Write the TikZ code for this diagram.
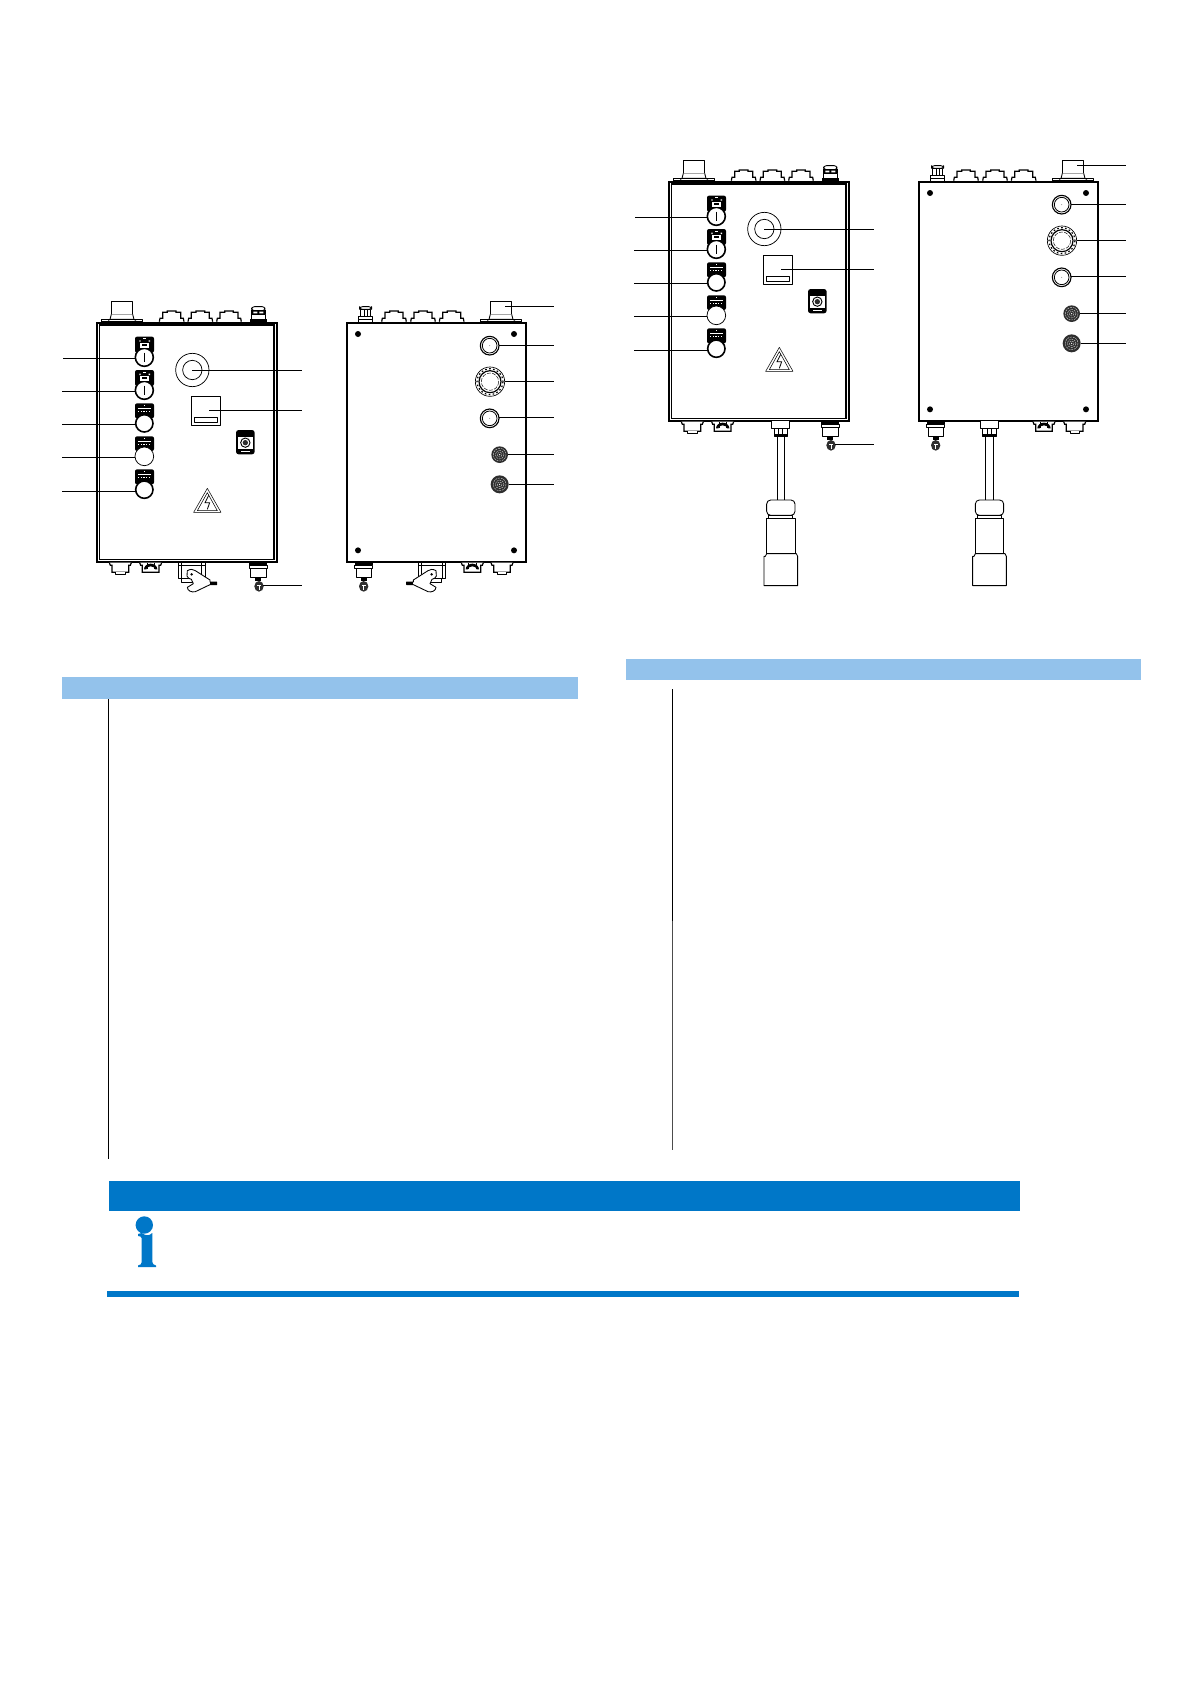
\documentclass[tikz,border=0pt]{standalone}
\definecolor{barlight}{HTML}{93C2EB}
\definecolor{bardark}{HTML}{0077C8}
\definecolor{speaker}{HTML}{2E2E2E}
\tikzset{
  zoomat/.style 2 args={shift={(#1,#2)},x=.25pt,y=-.25pt},
  leader/.style={draw=black,line width=.75pt},
  part/.style={draw=black,line width=.65pt,fill=white,line join=round},
  conn/.style={draw=black,line width=.9pt,fill=white,line join=miter},
  fine/.style={draw=black,line width=.4pt,fill=white,line join=round},
  boxfront/.style={draw=black,line width=1.4pt,fill=white},
  boxinner/.style={draw=black,line width=.8pt},
  boxback/.style={draw=black,line width=1.7pt,fill=white},
  ringthick/.style={draw=black,line width=1.2pt,fill=white},
  ringthin/.style={draw=black,line width=.55pt,fill=white},
}
\newcommand\lead[4]{\coordinate (la) at (#1,#2);\coordinate (lb) at (#3,#4);\draw[leader] (la) -- (lb);}
% connector on top of the box
\newcommand\topconn[1]{\begin{scope}[shift={(#1,0)}]
  \draw[conn] (-37,125)--(-35,115)--(-27,115)--(-27,97)--(-13,97)--(-13,93)--(13,93)--(13,97)--(27,97)--(27,115)--(35,115)--(37,125);
\end{scope}}
% large gland on top
\newcommand\biggland[1]{\begin{scope}[shift={(#1,0)}]
  \draw[part] (-32,64) rectangle (32,103);
  \draw[part] (-32,103)--(-36,118)--(36,118)--(32,103);
  \draw[part] (-62,118) rectangle (62,126);
  \fill[black] (-62,122) rectangle (62,126);
  \fill[black] (-42,118) rectangle (-38,122) (38,118) rectangle (42,122);
\end{scope}}
% small gland on top
\newcommand\glanddark[1]{\begin{scope}[shift={(#1,0)}]
  \draw[part,rounded corners=2pt] (-20,80) rectangle (20,92);
  \fill[black] (-22,91) rectangle (22,103);
  \fill[white] (-15,95) rectangle (-3,100) (3,95) rectangle (15,100);
  \draw[part] (-20,103) rectangle (20,118);
  \fill[black] (-25,116) rectangle (25,126);
\end{scope}}
\newcommand\glandlight[1]{\begin{scope}[shift={(#1,0)}]
  \draw[part,rounded corners=2pt] (-18,80) rectangle (18,88);
  \draw[part] (-15,88) rectangle (15,110);
  \draw[fine] (-5,88)--(-5,110) (5,88)--(5,110);
  \draw[part] (-21,110) rectangle (21,126);
  \draw[fine] (-21,118)--(21,118);
\end{scope}}
% push button with label plate; #1 plate top, #2 plate bottom, #3 circle y, #4 radius, #5 style, #6 extras
\newcommand\btn[6]{
  \fill[black,rounded corners=1.5pt] (255,#1) rectangle (312,#2+10);
  \draw[#5] (283,#3) circle (#4);
  #6
}
\newcommand\platekey[1]{\fill[white] (270,#1+18) rectangle (298,#1+34);\fill[black] (276,#1+22) rectangle (292,#1+28);\fill[white] (280,#1+5) rectangle (288,#1+8);\fill[white] (268,#1+11) rectangle (272,#1+15) (296,#1+11) rectangle (300,#1+15);}
\newcommand\platerows[1]{\fill[white] (281,#1+4) rectangle (285,#1+7);\fill[white] (263,#1+14) rectangle (304,#1+16.5);\foreach \tx in {264,272,280,288,296}{\fill[white] (\tx,#1+24) rectangle (\tx+4,#1+26);}}
% bottom connectors
\newcommand\botconn[1]{\begin{scope}[shift={(#1,0)}]
  \draw[conn] (-33,848)--(-30,856)--(-25,856)--(-25,877)--(25,877)--(25,856)--(30,856)--(33,848);
  \draw[part] (-14,877)--(-14,882)--(14,882)--(14,877);
\end{scope}}
\newcommand\botconndark[1]{\begin{scope}[shift={(#1,0)}]
  \draw[conn] (-33,848)--(-30,856)--(-25,856)--(-25,877)--(25,877)--(25,856)--(30,856)--(33,848);
  \fill[black] (-20,868) arc[start angle=180,end angle=360,x radius=20,y radius=17] -- (13,868) arc[start angle=0,end angle=-180,x radius=13,y radius=9] -- cycle;
  \draw[fine] (-11,850)--(-11,868) (11,850)--(11,868);
\end{scope}}
% gland carrying the small ball
\newcommand\keygland[2]{\begin{scope}[shift={(#1,0)}]
  \fill[black] (-27,847) rectangle (27,855);
  \draw[part] (-27,855) rectangle (27,864);
  \draw[part] (-23,864) rectangle (23,891);
  \fill[black] (-9,890) rectangle (9,903);
  \fill[speaker] (#2,919) ellipse (14 and 16);
  \fill[white] (#2-6,914) rectangle (#2+6,918);
  \fill[white] (#2-1.5,914) rectangle (#2+1.5,931);
\end{scope}}
% hinged latch
\newcommand\latch{
  \draw[part] (385,848) rectangle (465,896);
  \draw[fine] (393,848)--(393,896) (455,848)--(455,896) (385,856)--(465,856);
  \draw[part] (395,896) rectangle (428,906);
  \draw[part] (412,872) .. controls (422,866) and (430,868) .. (436,872) -- (480,900) -- (480,906) -- (500,906) -- (500,914) -- (480,914) -- (436,935) .. controls (425,938) and (412,932) .. (412,922) -- (430,911) -- (424,898) .. controls (418,896) and (412,894) .. (411,888) -- cycle;
  \fill[black] (480,906) rectangle (500,914);
  \fill[black] (425,883) circle (4);
}
% cable with plug; #1 centre x
\newcommand\cableplug[1]{\begin{scope}[shift={(#1,0)}]
  \draw[part] (-27,847) -- (-27,868) -- (27,868) -- (27,847);
  \draw[part] (-20,868) rectangle (20,892);
  \draw[fine] (-6,868)--(-6,892) (6,868)--(6,892);
  \fill[black] (-20,886) rectangle (20,892);
  \draw[part] (-11,892) rectangle (11,1083);
  \draw[part,rounded corners=3pt] (-42,1083) rectangle (43,1129);
  \draw[part] (-36,1129) rectangle (36,1138);
  \draw[part] (-42,1138) rectangle (43,1245);
  \draw[part] (-46,1252) -- (-42,1244) -- (47,1244) -- (51,1252) -- (51,1340) -- (-50,1340) -- (-50,1252) -- cycle;
\end{scope}}
% front view of the box
\newcommand\frontview{
  \biggland{216}
  \topconn{365}\topconn{451}\topconn{537}
  \glanddark{625}
  \draw[boxfront] (140,128) rectangle (680,845);
  \draw[boxinner] (148,135) rectangle (672,838);
  \btn{170}{208}{232}{27}{ringthick}{\platekey{170}\draw[part,fill=none] (283,218)--(283,247);}
  \btn{270}{308}{331}{27}{ringthick}{\platekey{270}\draw[part,fill=none] (283,317)--(283,346);}
  \btn{370}{405}{430}{26}{ringthick}{\platerows{370}}
  \btn{469}{503}{529}{28}{ringthin}{\platerows{469}}
  \btn{568}{603}{629}{26}{ringthick}{\platerows{568}}
  \draw[ringthin] (427,270) circle (50);
  \draw[ringthin] (427,270) circle (29);
  \draw[part] (423,349) rectangle (511,437);
  \draw[black,line width=1.1pt] (423,349)--(511,349);
  \draw[fine] (432,411) rectangle (503,426);
  \fill[black,rounded corners=2pt] (558,450) rectangle (614,523);
  \fill[white] (564,470) rectangle (608,506);
  \draw[black,line width=.7pt,fill=white] (586,488) circle (14);
  \fill[speaker] (586,488) circle (8);
  \fill[white] (572,512) rectangle (600,515);
  \draw[fine,fill=none] (472,625)--(431,697)--(513,697)--cycle;
  \draw[fine,fill=none] (472,638)--(442,692)--(502,692)--cycle;
  \draw[black,line width=.6pt] (476,646)--(465,668)--(479,668)--(472,688);
  \botconn{211}\botconndark{302}
  \keygland{625}{2}
  \lead{40}{235}{255}{235}
  \lead{37}{334}{255}{334}
  \lead{37}{433}{257}{433}
  \lead{37}{532}{255}{532}
  \lead{37}{633}{257}{633}
  \lead{427}{270}{757}{270}
  \lead{477}{391}{757}{391}
  \lead{640}{917}{755}{917}
}
% rear view of the box
\newcommand\ringbtn[2]{
  \draw[draw=black,line width=.85pt,fill=white] (#1,#2) circle (28);
  \draw[draw=black,line width=.6pt,fill=white] (#1,#2) circle (22);
  \fill[gray] (#1,#2) circle (1.5);
}
\newcommand\speakerdisc[3]{
  \fill[speaker] (#1,#2) circle (#3);
  \foreach \rr in {7,13,19}{\draw[white!70!gray,line width=.3pt,dash pattern=on 1.4pt off .7pt] (#1,#2) circle (\rr);}
  \fill[white] (#1,#2) circle (2);
}
\newcommand\backview{
  \glandlight{137}
  \topconn{222}\topconn{309}\topconn{395}
  \biggland{543}
  \draw[boxback] (80,128) rectangle (618,845);
  \foreach \sx/\sy in {114/162,582/162,114/811,582/811}{\fill[black] (\sx,\sy) circle (9);}
  \ringbtn{509}{197}
  \draw[draw=black,line width=.5pt,fill=white] (510,305) circle (44);
  \draw[black,line width=.9pt,dash pattern=on 1.2pt off 1.8pt] (510,305) circle (39);
  \draw[draw=black,line width=.9pt,fill=white] (510,305) circle (33);
  \draw[black,line width=.35pt,dash pattern=on 3pt off 1pt,fill=white] (510,305) circle (26);
  \ringbtn{509}{415}
  \speakerdisc{539}{524}{25}
  \speakerdisc{539}{613}{27}
  \keygland{131}{0}
  \lead{555}{79}{703}{79}
  \lead{537}{197}{703}{197}
  \lead{555}{303}{703}{303}
  \lead{537}{411}{703}{411}
  \lead{564}{523}{703}{523}
  \lead{566}{613}{703}{613}
}
\begin{document}
\begin{tikzpicture}[x=.75pt,y=-.75pt]
\useasboundingbox (0,0) rectangle (1192,1685);
\fill[white] (0,0) rectangle (1192,1685);
% left pair
\begin{scope}[zoomat={50}{280}]
  \frontview
  \latch
\end{scope}
\begin{scope}[zoomat={320}{280}]
  \backview
  \begin{scope}[shift={(760,0)},xscale=-1]\latch\end{scope}
  \botconndark{457}\botconn{546}
\end{scope}
% right pair
\begin{scope}[zoomat={622}{139}]
  \frontview
  \cableplug{476}
\end{scope}
\begin{scope}[zoomat={892}{139}]
  \backview
  \cableplug{292}
  \botconndark{456}\botconn{548}
\end{scope}
% header bars
\node[fill=barlight,inner sep=0,minimum width=387pt,minimum height=16.5pt,anchor=north west] (barA) at (62,677) {};
\node[fill=barlight,inner sep=0,minimum width=386.5pt,minimum height=15.75pt,anchor=north west] (barB) at (625.3,659) {};
\coordinate (lineAa) at (108.7,699);
\coordinate (lineAb) at (108.7,1159);
\draw[black,line width=.6pt] (lineAa) -- (lineAb);
\coordinate (lineBa) at (672.3,689);
\coordinate (lineBb) at (672.3,921);
\coordinate (lineBc) at (672.3,1150);
\draw[black,line width=.6pt] (lineBa) -- (lineBb);
\draw[black!70,line width=.45pt] (lineBb) -- (lineBc);
% note box
\node[fill=bardark,inner sep=0,minimum width=683.25pt,minimum height=22.5pt,anchor=north west] (noteHead) at (109,1181) {};
\fill[bardark] (107.3,1291) rectangle (1019,1297);
\fill[bardark] (144.3,1225) circle (8.7);
\fill[bardark] (138,1234) -- (141.7,1233) .. controls (146,1236) and (149,1236) .. (152.3,1233) -- (152.3,1262) .. controls (152.3,1264) and (154,1265) .. (156,1265.5) -- (156,1267) -- (138,1267) -- (138,1265.5) .. controls (140.5,1265) and (141.7,1264) .. (141.7,1262) -- (141.7,1238) .. controls (141.7,1236.5) and (139,1236) .. (138,1236) -- cycle;
\end{tikzpicture}
\end{document}
